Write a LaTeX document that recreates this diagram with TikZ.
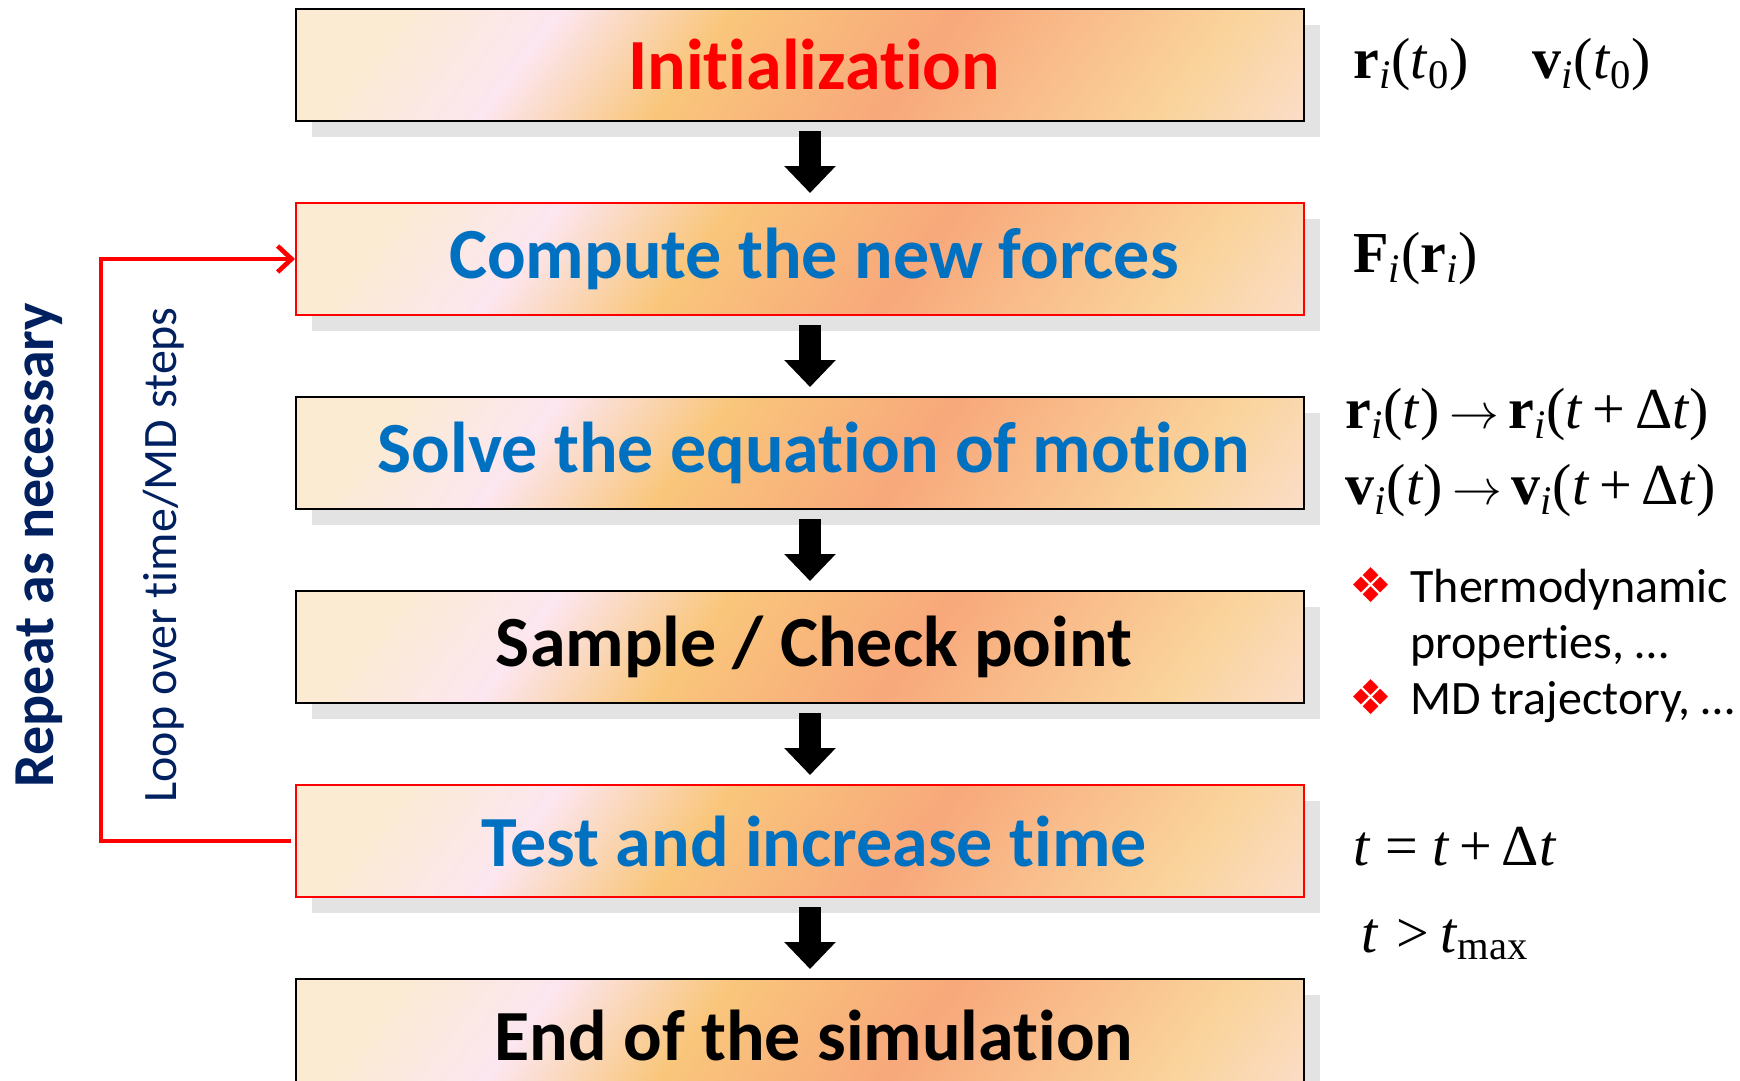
\documentclass[tikz,border=0pt]{standalone}
\usepackage{fontspec}
\setmainfont{Carlito}[Ligatures=CommonOff]
\newfontfamily\tnr{Liberation Serif}
\newfontfamily\dingfont{DejaVu Sans}
\usetikzlibrary{arrows.meta,positioning,shadows}

\definecolor{glowA}{HTML}{FBEBD3}
\definecolor{glowB}{HTML}{FCE6F0}
\definecolor{glowC}{HTML}{F9C67B}
\definecolor{glowD}{HTML}{F8A87B}
\definecolor{glowE}{HTML}{FAD49C}
\definecolor{glowF}{HTML}{FCE4EA}
\definecolor{hotred}{HTML}{FF0000}
\definecolor{stepblue}{HTML}{0070C0}
\definecolor{navy}{HTML}{002060}

\pgfdeclarehorizontalshading{glow}{100bp}{color(0bp)=(glowA); color(22bp)=(glowA);
  color(32bp)=(glowB); color(43bp)=(glowC); color(57.5bp)=(glowD);
  color(76bp)=(glowE); color(92bp)=(glowF); color(100bp)=(glowF)}

% bold vector with italic index, italic t
\newcommand{\bv}[2]{\textbf{#1}\textsubscript{\itshape #2}}
\newcommand{\ti}{\textit{t}}
\newcommand{\goesto}{\,{$\rightarrow$}\,}

\begin{document}
\begin{tikzpicture}[
  x=0.5pt, y=-0.5pt,
  node distance=40pt and 24pt,
  stage/.style={draw=black, line width=1pt, shade, shading=glow, shading angle=-37,
    minimum width=504pt, minimum height=56pt, inner sep=0pt,
    font=\bfseries\fontsize{36}{36}\selectfont,
    execute at begin node={\hspace*{14pt}},
    drop shadow={shadow xshift=8pt, shadow yshift=-8pt, fill=black!11, opacity=1}},
  loopstage/.style={stage, draw=hotred, line width=1pt},
  math/.style={font=\tnr\fontsize{29}{38}\selectfont, align=left, inner sep=0pt},
  note/.style={font=\fontsize{24}{28}\selectfont, inner sep=0pt},
  flow/.style={line width=11pt, shorten <=4.5pt, shorten >=4.5pt,
    -{Triangle[width=25pt,length=13.5pt]}},
  loopline/.style={draw=hotred, line width=2.3pt, shorten <=2pt,
    -{Straight Barb[length=7pt,width=13pt]}}
]
\useasboundingbox (0,0) rectangle (1740,1081);

% main flow
\node[stage, text=hotred] (init) at (800,65) {Initialization};
\node[loopstage, text=stepblue, below=of init] (force) {Compute the new forces};
\node[stage, text=stepblue, below=of force] (solve) {Solve the equation of motion};
\node[stage, below=of solve] (sample) {Sample / Check point};
\node[loopstage, text=stepblue, below=of sample] (test) {Test and increase time};
\node[stage, below=of test] (final) {End of the simulation};

\foreach \a/\b in {init/force, force/solve, solve/sample, sample/test, test/final}
  \draw[flow] ([xshift=5pt]\a.south) -- ([xshift=5pt]\b.north);

% quantities on the right
\node[math, right=24pt of init] (m0) {\bv{r}{i}(\ti\textsubscript{0})\hspace{1.1em}\bv{v}{i}(\ti\textsubscript{0})};
\node[math, right=24pt of force] (mF) {\bv{F}{i}(\bv{r}{i})};
\node[math, right=20pt of solve] (mrv) {\bv{r}{i}(\ti)\goesto\bv{r}{i}(\ti\,+\,Δ\ti)\\
  \bv{v}{i}(\ti)\goesto\bv{v}{i}(\ti\,+\,Δ\ti)};
\node[note, right=22pt of sample] (out) {%
  \begin{tabular}{@{}l@{\hspace{9pt}}l@{}}
    {\dingfont\fontsize{24}{24}\selectfont\color{hotred}❖} & Thermodynamic\\
     & properties, …\\
    {\dingfont\fontsize{24}{24}\selectfont\color{hotred}❖} & MD trajectory, …
  \end{tabular}};
\node[math, right=24pt of test, yshift=-3pt] (mt) {\ti\hspace{0.25em}=\hspace{0.25em}\ti\,+\,Δ\ti};
\node[math, below=26pt of mt.south west, anchor=north west, xshift=4pt] (mmax) {\ti\hspace{0.3em}>\hspace{0.2em}\ti\textsubscript{max}};

% time loop
\draw[loopline] (test.west) -- ++(-97pt,0) |- (force.west);
\node[rotate=90, text=navy, font=\fontsize{24}{24}\selectfont] (looplbl) at (164,555) {Loop over time/MD steps};
\node[rotate=90, text=navy, font=\bfseries\fontsize{29}{29}\selectfont] (repeat) at (39,545) {Repeat as necessary};
\end{tikzpicture}
\end{document}
